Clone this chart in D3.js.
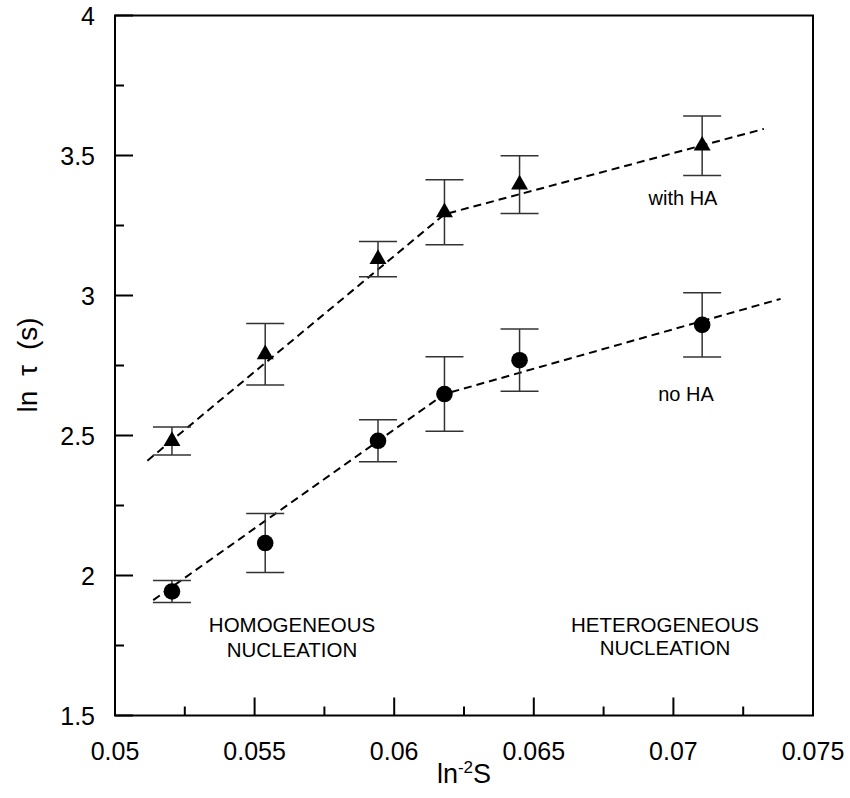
<!doctype html>
<html lang="en">
<head>
  <meta charset="utf-8">
  <title>ln tau vs ln-2 S</title>
  <style>
    body { margin: 0; background: #fff; }
    text { font-family: "Liberation Sans", Arial, Helvetica, sans-serif; fill: #000; }
    .frame { fill: none; stroke: #000; stroke-width: 2; }
    .tick { stroke: #000; stroke-width: 2; }
    .fit { fill: none; stroke: #000; stroke-width: 2; stroke-dasharray: 8,5; }
    .err { stroke: #333; stroke-width: 1.5; }
  </style>
</head>
<body>
  <div id="chart"></div>
  <script src="https://d3js.org/d3.v7.min.js" charset="utf-8"></script>
  <script>
// values
var xValues = [0.05204, 0.05538, 0.05942, 0.0618, 0.06449, 0.07103];
var withHA = [2.48, 2.79, 3.13, 3.297, 3.396, 3.535];
var withHAErr = [0.05, 0.11, 0.063, 0.116, 0.103, 0.106];
var noHA = [1.943, 2.116, 2.481, 2.648, 2.769, 2.895];
var noHAErr = [0.039, 0.105, 0.075, 0.133, 0.111, 0.115];

// dashed fit lines (two segments each, break near 0.0618)
var fitWithHAx = [0.05116, 0.0618, 0.07324];
var fitWithHAy = [2.41, 3.29, 3.595];
var fitNoHAx = [0.05137, 0.0618, 0.07384];
var fitNoHAy = [1.912, 2.648, 2.988];

var xTicks = [0.05, 0.055, 0.06, 0.065, 0.07, 0.075];
var xTickLabels = ["0.05", "0.055", "0.06", "0.065", "0.07", "0.075"];
var xMinor = [0.0525, 0.0575, 0.0625, 0.0675, 0.0725];
var yTicks = [1.5, 2, 2.5, 3, 3.5, 4];
var yTickLabels = ["1.5", "2", "2.5", "3", "3.5", "4"];
var yMinor = [1.75, 2.25, 2.75, 3.25, 3.75];

(function() {

  var width = 850;
  var height = 798;
  var left = 115, right = 813, top = 15.5, bottom = 715.5;

  var x = d3.scaleLinear().domain([0.05, 0.075]).range([left, right]);
  var y = d3.scaleLinear().domain([1.5, 4]).range([bottom, top]);

  var svg = d3.select("#chart")
      .append("svg")
      .attr("width", width)
      .attr("height", height);

  // ticks point inward, only on left and bottom
  svg.selectAll(".xmaj").data(xTicks).enter().append("line")
      .attr("class", "tick")
      .attr("x1", function(d) { return x(d); })
      .attr("x2", function(d) { return x(d); })
      .attr("y1", bottom).attr("y2", bottom - 18);
  svg.selectAll(".xmin").data(xMinor).enter().append("line")
      .attr("class", "tick")
      .attr("x1", function(d) { return x(d); })
      .attr("x2", function(d) { return x(d); })
      .attr("y1", bottom).attr("y2", bottom - 9);
  svg.selectAll(".ymaj").data(yTicks).enter().append("line")
      .attr("class", "tick")
      .attr("y1", function(d) { return y(d); })
      .attr("y2", function(d) { return y(d); })
      .attr("x1", left).attr("x2", left + 18);
  svg.selectAll(".ymin").data(yMinor).enter().append("line")
      .attr("class", "tick")
      .attr("y1", function(d) { return y(d); })
      .attr("y2", function(d) { return y(d); })
      .attr("x1", left).attr("x2", left + 9);

  svg.append("rect")
      .attr("class", "frame")
      .attr("x", left).attr("y", top)
      .attr("width", right - left).attr("height", bottom - top);

  svg.selectAll(".xlab").data(xTicks).enter().append("text")
      .attr("x", function(d) { return x(d); })
      .attr("y", 760)
      .attr("text-anchor", "middle")
      .style("font-size", "25px")
      .text(function(d, i) { return xTickLabels[i]; });

  svg.selectAll(".ylab").data(yTicks).enter().append("text")
      .attr("x", left - 20)
      .attr("y", function(d) { return y(d); })
      .attr("dy", "0.36em")
      .attr("text-anchor", "end")
      .style("font-size", "25px")
      .text(function(d, i) { return yTickLabels[i]; });

  // axis titles
  var xt = svg.append("text")
      .attr("x", (left + right) / 2)
      .attr("y", 783)
      .attr("text-anchor", "middle")
      .style("font-size", "27px");
  xt.append("tspan").text("ln");
  xt.append("tspan").attr("dy", -10).style("font-size", "17px").text("-2");
  xt.append("tspan").attr("dy", 10).text("S");

  svg.append("text")
      .attr("transform", "translate(37," + 365 + ") rotate(-90)")
      .attr("text-anchor", "middle")
      .style("font-size", "28px")
      .style("word-spacing", "7px")
      .text("ln \u03c4 (s)");

  // fit lines
  var line = d3.line()
      .x(function(d) { return x(d[0]); })
      .y(function(d) { return y(d[1]); });

  svg.append("path").attr("class", "fit")
      .attr("d", line(d3.zip(fitWithHAx, fitWithHAy)));
  svg.append("path").attr("class", "fit")
      .attr("d", line(d3.zip(fitNoHAx, fitNoHAy)));

  var drawErr = function(vals, errs) {
    var g = svg.append("g");
    var rows = d3.range(vals.length).map(function(i) {
      return { x: xValues[i], y: vals[i], e: errs[i] };
    });
    g.selectAll(".stem").data(rows).enter().append("line")
        .attr("class", "err")
        .attr("x1", function(d) { return x(d.x); })
        .attr("x2", function(d) { return x(d.x); })
        .attr("y1", function(d) { return y(d.y - d.e); })
        .attr("y2", function(d) { return y(d.y + d.e); });
    [-1, 1].forEach(function(s) {
      g.selectAll(".cap" + s).data(rows).enter().append("line")
          .attr("class", "err")
          .attr("x1", function(d) { return x(d.x) - 19; })
          .attr("x2", function(d) { return x(d.x) + 19; })
          .attr("y1", function(d) { return y(d.y + s * d.e); })
          .attr("y2", function(d) { return y(d.y + s * d.e); });
    });
  };
  drawErr(withHA, withHAErr);
  drawErr(noHA, noHAErr);

  // markers
  var tri = d3.symbol().type(d3.symbolTriangle).size(125);
  svg.selectAll(".tri").data(withHA).enter().append("path")
      .attr("transform", function(d, i) { return "translate(" + x(xValues[i]) + "," + y(d) + ")"; })
      .attr("d", tri)
      .attr("fill", "#000");

  svg.selectAll(".dot").data(noHA).enter().append("circle")
      .attr("cx", function(d, i) { return x(xValues[i]); })
      .attr("cy", function(d) { return y(d); })
      .attr("r", 8.3)
      .attr("fill", "#000");

  // annotations
  svg.append("text").attr("x", 683).attr("y", 205)
      .attr("text-anchor", "middle").style("font-size", "20px").text("with HA");
  svg.append("text").attr("x", 686).attr("y", 401)
      .attr("text-anchor", "middle").style("font-size", "20px").text("no HA");

  var homo = svg.append("text").attr("text-anchor", "middle").style("font-size", "20.5px");
  homo.append("tspan").attr("x", 292).attr("y", 632).text("HOMOGENEOUS");
  homo.append("tspan").attr("x", 292).attr("y", 656.5).text("NUCLEATION");

  var hetero = svg.append("text").attr("text-anchor", "middle").style("font-size", "20.5px");
  hetero.append("tspan").attr("x", 665).attr("y", 631.5).text("HETEROGENEOUS");
  hetero.append("tspan").attr("x", 665).attr("y", 654.5).text("NUCLEATION");

})();
  </script>
</body>
</html>
